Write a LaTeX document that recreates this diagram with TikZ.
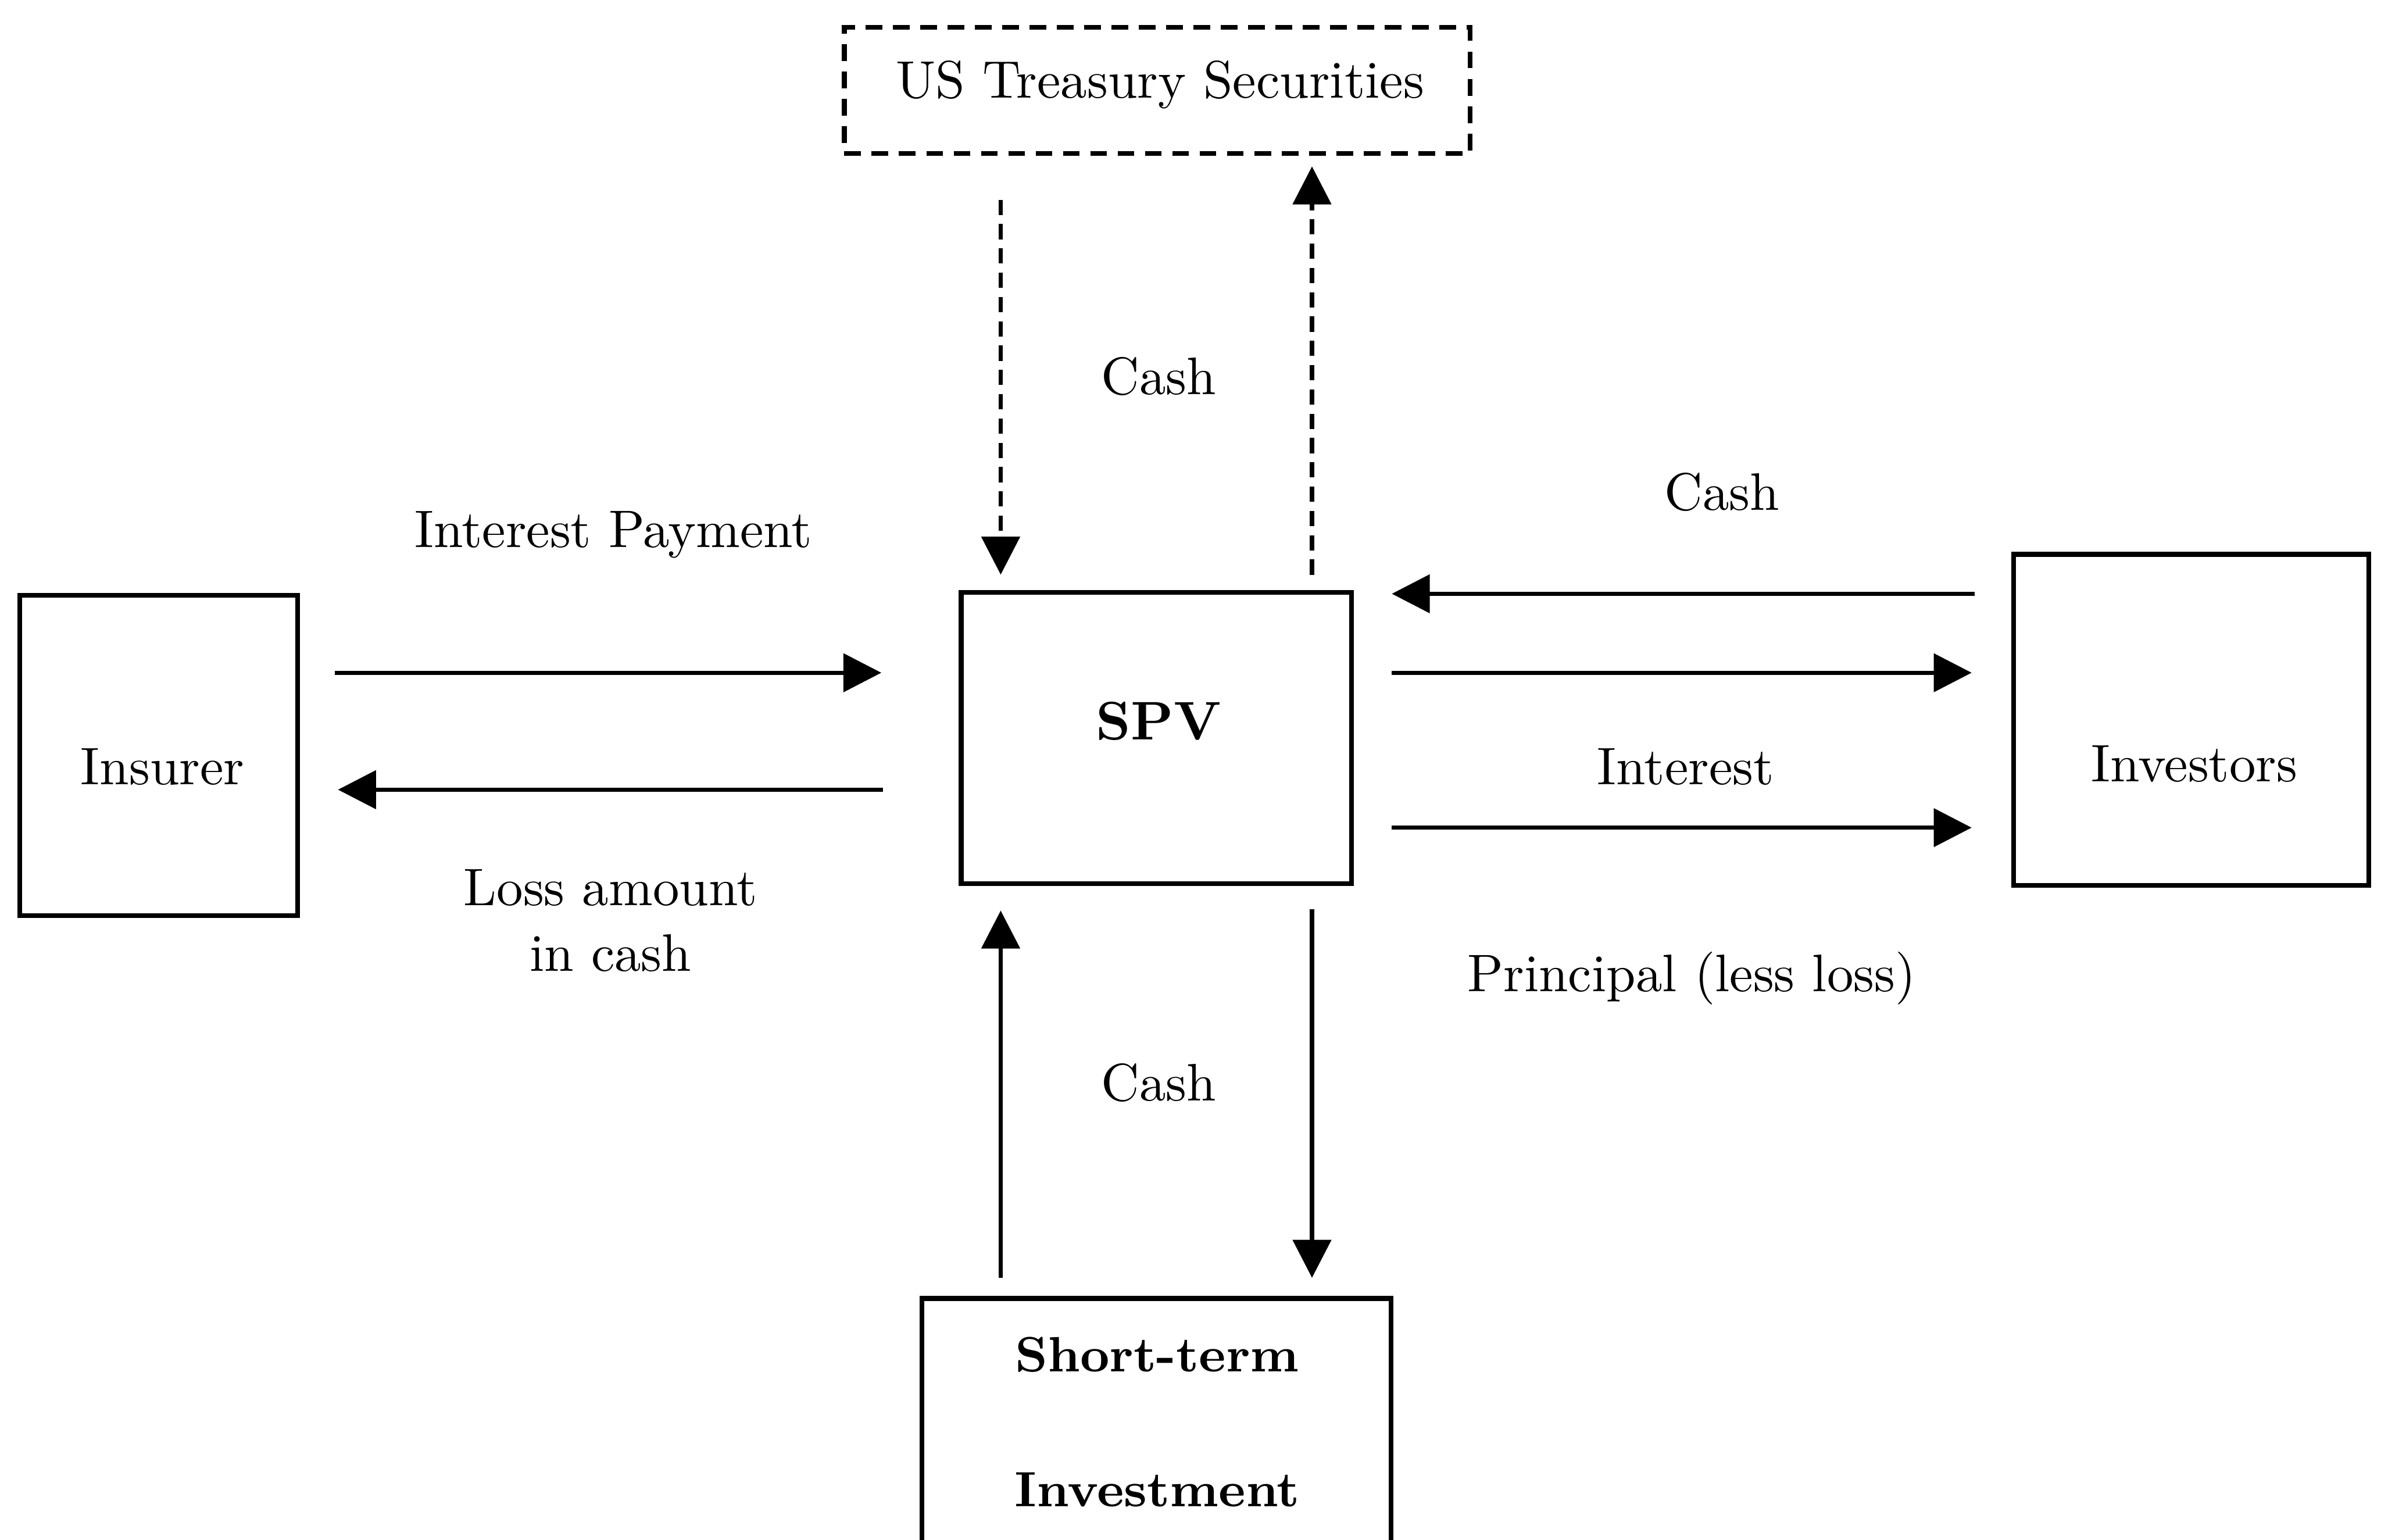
\documentclass[tikz,border=0pt]{standalone}
\usetikzlibrary{arrows.meta}
\begin{document}
\begin{tikzpicture}[
  box/.style={draw, line width=0.9pt, inner sep=0pt},
  dbox/.style={draw, line width=0.9pt, inner sep=0pt, dash pattern=on 0.11cm off 0.07cm},
  arr/.style={line width=0.8pt, -{Triangle[length=0.25cm,width=0.25cm]}},
  darr/.style={arr, dash pattern=on 0.10cm off 0.06cm},
  lbl/.style={font=\fontsize{9.9}{11.8}\selectfont, inner sep=0pt},
  blbl/.style={font=\fontsize{9.3}{11.2}\selectfont\bfseries, inner sep=0pt}
]
\useasboundingbox (0,0) rectangle (15.68,-10.14);
\begin{scope}
\clip (0,0) rectangle (15.68,-10.14);

% boxes
\node[dbox, minimum width=4.12cm, minimum height=0.83cm] (treas) at (7.62,-0.595) {};
\node[lbl] (treastxt) at (7.64,-0.56) {US Treasury Securities};

\node[box, minimum width=2.57cm, minimum height=1.92cm] (spv) at (7.615,-4.86) {};
\node[blbl, font=\fontsize{10.2}{12}\selectfont\bfseries] (spvtxt) at (7.63,-4.75) {SPV};

\node[box, minimum width=1.83cm, minimum height=2.11cm] (ins) at (1.045,-4.975) {};
\node[lbl] (instxt) at (1.07,-5.05) {Insurer};

\node[box, minimum width=2.34cm, minimum height=2.18cm] (inv) at (14.43,-4.74) {};
\node[lbl] (invtxt) at (14.45,-5.03) {Investors};

\node[box, minimum width=3.09cm, minimum height=2.0cm] (sti) at (7.615,-9.55) {};
\node[blbl] (stitxt1) at (7.62,-8.92) {Short-term};
\node[blbl] (stitxt2) at (7.62,-9.81) {Investment};
\end{scope}

% treasury <-> SPV (dashed)
\draw[darr, shorten <=0.29cm, shorten >=0.10cm] (treas.south -| 6.59,0) -- (spv.north -| 6.59,0);
\draw[darr, shorten <=0.10cm, shorten >=0.07cm] (spv.north -| 8.64,0) -- (treas.south -| 8.64,0);
\node[lbl] (cash1) at (7.63,-2.48) {Cash};

% insurer <-> SPV
\draw[arr, shorten <=0.23cm, shorten >=0.51cm] (ins.east |- 0,-4.43) -- (spv.west |- 0,-4.43);
\draw[arr, shorten <=0.50cm, shorten >=0.25cm] (spv.west |- 0,-5.20) -- (ins.east |- 0,-5.20);
\node[lbl] (ip) at (4.04,-3.52) {Interest Payment};
\node[lbl, align=center] (loss) at (4.02,-6.06) {Loss amount\\[0.5pt]in cash};

% investors <-> SPV
\draw[arr, shorten <=0.24cm, shorten >=0.25cm] (inv.west |- 0,-3.91) -- (spv.east |- 0,-3.91);
\draw[arr, shorten <=0.25cm, shorten >=0.26cm] (spv.east |- 0,-4.43) -- (inv.west |- 0,-4.43);
\draw[arr, shorten <=0.25cm, shorten >=0.26cm] (spv.east |- 0,-5.45) -- (inv.west |- 0,-5.45);
\node[lbl] (cash2) at (11.34,-3.24) {Cash};
\node[lbl] (intr) at (11.10,-5.05) {Interest};
\node[lbl] (princ) at (11.14,-6.44) {Principal (less loss)};

% short-term <-> SPV
\draw[arr, shorten <=0.12cm, shorten >=0.16cm] (sti.north -| 6.59,0) -- (spv.south -| 6.59,0);
\draw[arr, shorten <=0.15cm, shorten >=0.12cm] (spv.south -| 8.64,0) -- (sti.north -| 8.64,0);
\node[lbl] (cash3) at (7.63,-7.13) {Cash};
\end{tikzpicture}
\end{document}
